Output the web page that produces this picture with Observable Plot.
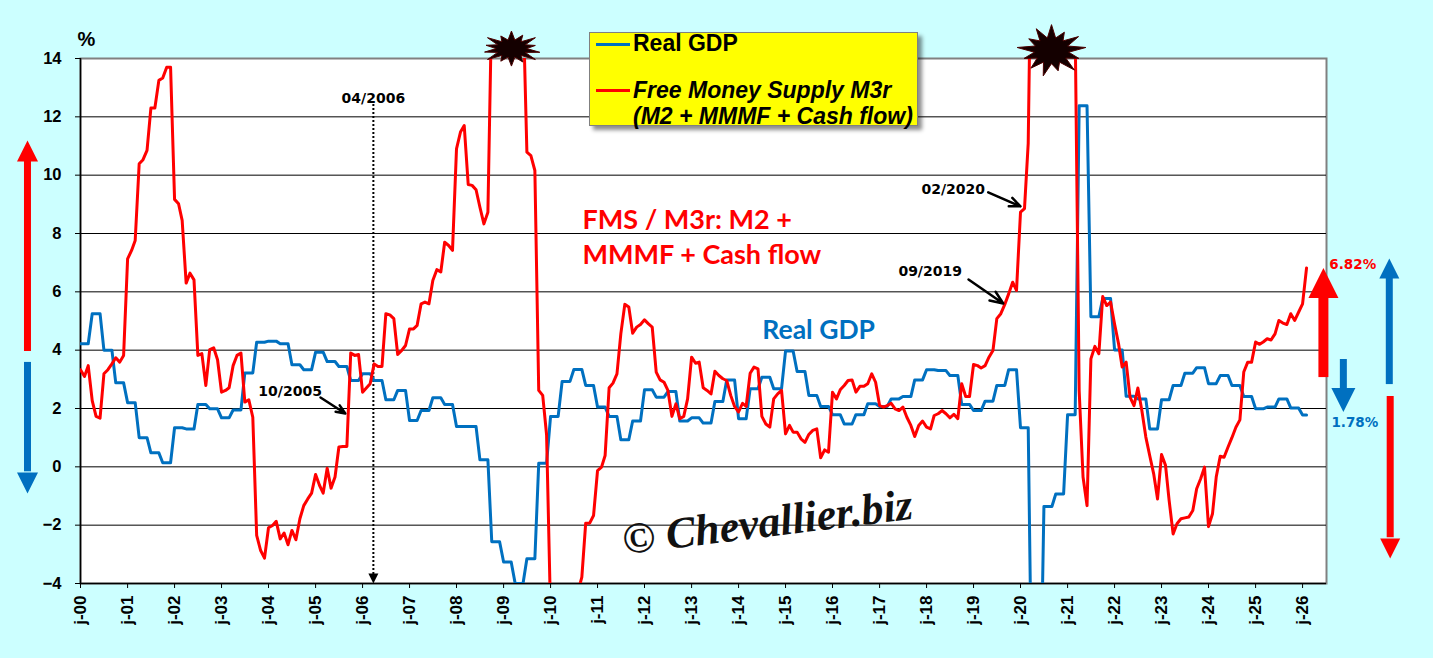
<!DOCTYPE html>
<html>
<head>
<meta charset="utf-8">
<script src="https://cdn.jsdelivr.net/npm/d3@7"></script>
<script src="https://cdn.jsdelivr.net/npm/@observablehq/plot@0.6"></script>
<style>
html,body{margin:0;padding:0;background:#CCFFFF;overflow:hidden;}
#wrap{position:relative;width:1433px;height:658px;overflow:hidden;}
#legend{position:absolute;left:589px;top:32px;width:327px;height:92px;background:#FFFF00;border:1px solid #808080;box-shadow:4px 4px 4px rgba(0,0,0,0.45);font-family:"Liberation Sans",Arial,sans-serif;font-weight:bold;font-size:23px;color:#000;}
#legend .t{position:absolute;left:43px;line-height:26px;white-space:nowrap;}
#legend .s{position:absolute;left:6px;width:34px;height:3px;}
</style>
</head>
<body>
<div id="wrap">
<div id="chart"></div>
<div id="legend">
  <div class="s" style="top:9.5px;background:#0070C0"></div>
  <div class="t" style="top:-3px">Real GDP</div>
  <div class="s" style="top:55.5px;background:#FF0000"></div>
  <div class="t" style="top:44px;font-style:italic">Free Money Supply M3r</div>
  <div class="t" style="top:70px;font-style:italic">(M2 + MMMF + Cash flow)</div>
</div>
</div>
<script>
// ---- DATA ----
// Free Money Supply M3r, % y/y, monthly from Jan 2000 (values beyond the axis range are clipped)
const fms = [
  3.33, 3.1, 3.47, 2.27, 1.73, 1.67, 3.19, 3.33, 3.53, 3.74, 3.59, 3.82,
  7.13, 7.42, 7.76, 10.39, 10.53, 10.85, 12.3, 12.3, 13.25, 13.33, 13.7, 13.7,
  9.17, 9.02, 8.45, 6.3, 6.64, 6.41, 3.82, 3.88, 2.79, 4.02, 4.08, 3.67,
  2.56, 2.62, 2.71, 3.47, 3.82, 3.9, 2.22, 2.3, 1.7, -2.35, -2.87, -3.13,
  -2.09, -2.01, -1.87, -2.47, -2.27, -2.67, -2.18, -2.5, -1.78, -1.33, -1.1, -0.9,
  -0.26, -0.64, -0.9, -0.05, -0.73, -0.35, 0.68, 0.7, 0.7, 3.9, 3.82, 3.85,
  2.56, 2.71, 2.85, 3.53, 3.44, 3.44, 5.25, 5.21, 5.08, 3.85, 3.99, 4.16,
  4.73, 4.73, 4.85, 5.59, 5.65, 5.59, 6.39, 6.76, 6.68, 7.7, 7.59, 7.42,
  10.9, 11.48, 11.7, 9.68, 9.65, 9.5, 8.9, 8.33, 8.73, 16, 17, 18,
  18, 18, 17.5, 17, 16.5, 16, 10.79, 10.67, 10.16, 2.62, 2.45, 1.1,
  -5, -6, -6.5, -6.5, -6, -5.5, -5, -4.3, -3.78, -1.93, -1.93, -1.67,
  -0.13, -0.01, 0.39, 2.71, 2.87, 3.19, 4.56, 5.57, 5.48, 4.58, 4.79, 4.88,
  5.04, 4.9, 4.79, 3.25, 2.98, 2.9, 2.62, 1.73, 2.16, 1.65, 1.73, 2.33,
  3.76, 3.55, 3.59, 2.71, 2.62, 2.5, 3.28, 3.13, 3.02, 2.96, 2.45, 2.07,
  1.88, 2.18, 2.07, 3.21, 3.42, 3.36, 1.73, 1.47, 1.36, 2.33, 2.5, 2.62,
  1.13, 1.42, 1.19, 1.19, 0.96, 0.84, 1.11, 1.25, 1.3, 0.31, 0.58, 0.5,
  2.56, 2.33, 2.64, 2.79, 2.96, 2.98, 2.56, 2.76, 2.76, 2.85, 3.19, 2.9,
  2.1, 2.05, 2.1, 2.18, 1.99, 1.93, 2.05, 1.7, 1.42, 1.04, 1.42, 1.57,
  1.36, 1.3, 1.76, 1.82, 1.93, 1.82, 1.68, 1.8, 1.65, 2.85, 2.41, 2.41,
  3.51, 3.47, 3.39, 3.47, 3.76, 3.99, 5.08, 5.25, 5.57, 5.93, 6.33, 6.05,
  8.73, 8.85, 11.1, 21, 23, 25, 26, 26, 26, 25, 24, 22,
  20, 18, 15, 2.6, -0.35, -1.33, 3.7, 4.13, 3.88, 5.84, 5.53, 5.65,
  4.9, 4.22, 3.42, 3.59, 2.39, 2.1, 2.7, 1.93, 1.02, 0.39, -0.24, -1.1,
  0.42, 0.05, -1.15, -2.3, -1.95, -1.78, -1.75, -1.72, -1.5, -0.75, -0.41, -0.01,
  -2.05, -1.61, -0.35, 0.36, 0.33, 0.68, 1.0, 1.36, 1.61, 3.25, 3.59, 3.59,
  4.28, 4.2, 4.28, 4.39, 4.35, 4.56, 5.02, 4.93, 4.88, 5.25, 5.02, 5.3,
  5.59, 6.82
];
// Real GDP, % y/y, quarterly from 2000Q1 (each quarter shown for its 3 months)
const gdpQuarterly = [
  4.22, 5.25, 4.0, 2.88,   2.2, 1.0, 0.48, 0.14,   1.34, 1.3, 2.14, 1.99,
  1.68, 1.95, 3.22, 4.27,  4.31, 4.22, 3.5, 3.33,  3.93, 3.61, 3.44, 2.96,
  3.19, 2.96, 2.3, 2.62,   1.59, 1.93, 2.37, 2.14,  1.38, 1.38, 0.24, -2.57,
  -3.26, -4.0, -3.15, 0.12, 1.73, 2.93, 3.34, 2.79, 2.05, 1.73, 0.93, 1.57,
  2.64, 2.39, 2.58, 1.57,  1.68, 1.5, 2.24, 2.98,  1.65, 2.68, 3.07, 2.68,
  3.97, 3.27, 2.45, 2.07,  1.79, 1.47, 1.79, 2.16,  2.07, 2.33, 2.41, 2.98,
  3.33, 3.3, 3.13, 2.14,   1.93, 2.25, 2.79, 3.33,  1.34, -9.1, -1.36, -0.93,
  1.79, 12.38, 5.15, 5.77, 4.01, 2.42, 2.33, 1.3,   2.3, 2.79, 3.21, 3.4,
  2.85, 3.13, 2.79, 2.41,  1.99, 2.05, 2.33, 2.02,  1.78
];
const yTicks = [-4, -2, 0, 2, 4, 6, 8, 10, 12, 14];
const gridTicks = [-2, 0, 2, 4, 6, 8, 10, 12];
const xStart = new Date(Date.UTC(2000, 0, 1));
const xEnd = new Date(Date.UTC(2026, 6, 6));
const yearTicks = d3.range(2000, 2027).map(y => new Date(Date.UTC(y, 0, 1)));

// annotations (date, value)
const markerNote = {date: "2006-03-26", value: 12.49, text: "04/2006"};
const notes = [
  {date: "2003-10-14", value: 2.42, text: "10/2005"},
  {date: "2017-11-22", value: 9.34, text: "02/2020"},
  {date: "2017-05-27", value: 6.53, text: "09/2019"}
];
const pointers = [
  {x1: "2005-02-08", y1: 2.378, x2: "2005-08-20", y2: 1.83},
  {x1: "2019-04-25", y1: 9.41, x2: "2020-01-01", y2: 8.93},
  {x1: "2018-11-23", y1: 6.42, x2: "2019-08-20", y2: 5.6}
];
const lastLabels = [
  {date: "2026-07-28", value: 6.77, text: "6.82%", color: "#FF0000"},
  {date: "2026-08-13", value: 1.38, text: "1.78%", color: "#0070C0"}
];
const bursts = [
  {date: "2009-03-03", value: 14.34},
  {date: "2020-08-29", value: 14.27}
];

// ---- BUILD ----
const RED = "#FF0000", BLUE = "#0070C0";
const month = i => new Date(Date.UTC(2000, i, 1));
const fmsData = fms.map((v, i) => ({date: month(i), value: v}));
const gdpData = fms.map((_, i) => ({date: month(i), value: gdpQuarterly[Math.floor(i / 3)]}));
const D = s => new Date(s + "T00:00:00Z");

function starSymbol(aspect, spikes) {
  return {draw(ctx, size) {
    const r = Math.sqrt(size / Math.PI), n = spikes.length;
    for (let i = 0; i < 2 * n; i++) {
      const a = i * Math.PI / n - Math.PI / 2;
      const rr = i % 2 === 0 ? r * spikes[i / 2] : r * 0.5;
      const x = Math.cos(a) * rr * aspect, y = Math.sin(a) * rr;
      if (i) ctx.lineTo(x, y); else ctx.moveTo(x, y);
    }
    ctx.closePath();
  }};
}
const headUp = {draw(ctx, size) {const r = Math.sqrt(size / Math.PI); ctx.moveTo(0, -r); ctx.lineTo(r, r); ctx.lineTo(-r, r); ctx.closePath();}};
const headDown = {draw(ctx, size) {const r = Math.sqrt(size / Math.PI); ctx.moveTo(0, r); ctx.lineTo(r, -r); ctx.lineTo(-r, -r); ctx.closePath();}};

function bigArrow(date, y1, y2, headY, r, up, color, w) {
  return [
    Plot.ruleX([D(date)], {y1, y2, stroke: color, strokeWidth: w}),
    Plot.dot([D(date)], {x: d => d, y: () => headY, r, symbol: up ? headUp : headDown, fill: color, stroke: "none"})
  ];
}

const chart = Plot.plot({
  width: 1433, height: 658,
  marginLeft: 80, marginRight: 107, marginTop: 58, marginBottom: 75,
  style: {background: "#CCFFFF", fontFamily: "'Liberation Sans', Arial, sans-serif", fontWeight: "bold", fontSize: "16px", color: "black", overflow: "visible"},
  x: {type: "utc", domain: [xStart, xEnd]},
  y: {domain: [-4, 14]},
  marks: [
    Plot.frame({fill: "white", stroke: "#808080", strokeWidth: 2}),
    Plot.gridY(gridTicks, {stroke: "black", strokeOpacity: 1, strokeWidth: 1}),
    Plot.ruleY([-4], {stroke: "black", strokeWidth: 1.5}),
    Plot.ruleX([xStart], {stroke: "black", strokeWidth: 1.5}),
    Plot.axisY({ticks: yTicks, tickSize: 5, tickPadding: 14, fontSize: 16.5, fontWeight: "bold"}),
    Plot.axisX({ticks: yearTicks, tickFormat: d => "j-" + String(d.getUTCFullYear() % 100).padStart(2, "0"),
      tickRotate: -90, tickSize: 5, tickPadding: 7, fontSize: 17, fontWeight: "bold"}),
    Plot.text([0], {x: () => D("1999-12-08"), y: () => 14.42, text: () => "%", textAnchor: "start", lineAnchor: "bottom", fontSize: 20, fontWeight: "bold"}),
    // watermark
    Plot.text([0], {x: () => D("2014-08-13"), y: () => -1.91, text: () => "© Chevallier.biz", rotate: -7,
      fontFamily: "'Liberation Serif', serif", fontStyle: "italic", fontWeight: "bold", fontSize: 44, fill: "#111"}),
    // 04/2006 dotted marker
    Plot.ruleX([D(markerNote.date)], {y1: 12.42, y2: -3.7, stroke: "black", strokeWidth: 2, strokeDasharray: "2,2"}),
    Plot.dot([D(markerNote.date)], {x: d => d, y: () => -3.83, r: 5, symbol: headDown, fill: "black", stroke: "none"}),
    // series
    Plot.line(gdpData, {x: "date", y: "value", stroke: BLUE, strokeWidth: 3, clip: true}),
    Plot.line(fmsData, {x: "date", y: "value", stroke: RED, strokeWidth: 3, clip: true}),
    // bursts
    Plot.dot([bursts[0]], {x: d => D(d.date), y: "value", r: 17.5, symbol: starSymbol(1.75, [1, 0.85, 1, 0.8, 0.95, 1, 0.85, 1, 0.8, 1, 0.9, 0.85, 1, 0.8]), fill: "#140000", stroke: "#4a0000", strokeWidth: 1}),
    Plot.dot([bursts[1]], {x: d => D(d.date), y: "value", r: 26, symbol: starSymbol(1.33, [1, 0.8, 0.95, 1, 0.85, 1, 0.8, 1, 0.9, 0.85, 1, 0.8, 0.95]), fill: "#140000", stroke: "#4a0000", strokeWidth: 1}),
    // labels
    Plot.text([{t: "FMS / M3r: M2 +", v: 8.14}, {t: "MMMF + Cash flow", v: 6.94}], {x: () => D("2010-09-06"), y: "v", text: "t", textAnchor: "start", lineAnchor: "bottom",
      fontFamily: "Lato, 'Open Sans', sans-serif", fontWeight: "bold", fontSize: 27, fill: RED}),
    Plot.text([0], {x: () => D("2014-07-05"), y: () => 4.4, text: () => "Real GDP", textAnchor: "start", lineAnchor: "bottom",
      fontFamily: "Lato, 'Open Sans', sans-serif", fontWeight: "bold", fontSize: 26.5, fill: BLUE}),
    Plot.text([markerNote], {x: d => D(d.date), y: "value", text: "text", textAnchor: "middle", lineAnchor: "bottom",
      fontFamily: "'DejaVu Sans', sans-serif", fontWeight: "bold", fontSize: 14, fill: "black"}),
    Plot.text(notes, {x: d => D(d.date), y: "value", text: "text", textAnchor: "start", lineAnchor: "bottom",
      fontFamily: "'DejaVu Sans', sans-serif", fontWeight: "bold", fontSize: 14, fill: "black"}),
    Plot.arrow(pointers, {x1: d => D(d.x1), y1: "y1", x2: d => D(d.x2), y2: "y2", stroke: "black", strokeWidth: 2.5, headLength: 10, headAngle: 45}),
    Plot.text(lastLabels, {x: d => D(d.date), y: "value", text: "text", fill: d => d.color, textAnchor: "start", lineAnchor: "bottom",
      fontFamily: "'DejaVu Sans', sans-serif", fontWeight: "bold", fontSize: 13.5}),
    // side arrows
    ...bigArrow("1998-11-15", 3.955, 10.5, 10.83, 10.5, true, RED, 7),
    ...bigArrow("1998-11-15", 3.58, -0.17, -0.55, 10.5, false, BLUE, 7),
    ...bigArrow("2026-06-12", 3.06, 5.85, 6.3, 15, true, RED, 10),
    ...bigArrow("2026-11-14", 3.68, 2.66, 2.29, 12, false, BLUE, 7),
    ...bigArrow("2027-11-06", 2.82, 6.48, 6.8, 10, true, BLUE, 7),
    ...bigArrow("2027-11-13", 2.41, -2.43, -2.8, 10, false, RED, 7)
  ]
});
document.getElementById("chart").appendChild(chart);
</script>
</body>
</html>
